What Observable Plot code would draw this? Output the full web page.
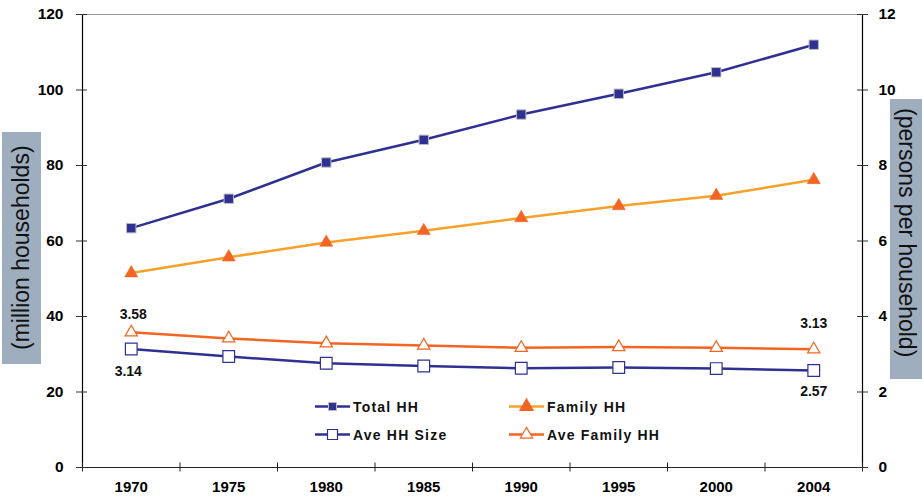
<!DOCTYPE html>
<html>
<head>
<meta charset="utf-8">
<script src="https://cdn.jsdelivr.net/npm/d3@7"></script>
<script src="https://cdn.jsdelivr.net/npm/@observablehq/plot@0.6"></script>
<style>
  html, body { margin: 0; padding: 0; background: #fff; }
  #wrap { position: relative; width: 922px; height: 499px; font-family: "Liberation Sans", Arial, sans-serif; }
  #wrap svg.plot { position: absolute; left: 0; top: 0; }
  .ylab { position: absolute; background: #9FAEBF; color: #111; font-size: 23px; display: flex; align-items: center; justify-content: center; writing-mode: vertical-rl; white-space: nowrap; }
  #leftLab { left: 2px; top: 132px; width: 39px; height: 232px; transform: rotate(180deg); }
  #rightLab { left: 890px; top: 99px; width: 32px; height: 280px; overflow: hidden; justify-content: flex-start; }
  #legend { position: absolute; left: 0; top: 0; pointer-events: none; }
</style>
</head>
<body>
<div id="wrap"></div>
<script>
const years = ["1970", "1975", "1980", "1985", "1990", "1995", "2000", "2004"];
const totalHH = [63.4, 71.2, 80.8, 86.8, 93.5, 99.0, 104.7, 112.0];
const familyHH = [51.5, 55.7, 59.6, 62.7, 66.1, 69.3, 72.0, 76.2];
const aveHHSize = [3.14, 2.94, 2.76, 2.69, 2.63, 2.65, 2.62, 2.57];
const aveFamilyHH = [3.58, 3.42, 3.29, 3.23, 3.17, 3.19, 3.17, 3.13];
const leftTicks = [0, 20, 40, 60, 80, 100, 120];
const rightTicks = [0, 2, 4, 6, 8, 10, 12];
const seriesNames = ["Total HH", "Family HH", "Ave HH Size", "Ave Family HH"];

const NAVY = "#2E3192", ORANGE = "#F7A12B", RED = "#F26522";
const idx = years.map((_, i) => i);
const bounds = d3.range(years.length + 1).map(i => i - 0.5);
const rows = (vals, k = 1) => vals.map((v, i) => ({i, v: v * k}));

const tf = {fontFamily: "Liberation Sans, Arial, sans-serif", fontWeight: "bold"};

const chart = Plot.plot({
  width: 922, height: 499,
  marginLeft: 82, marginRight: 60, marginTop: 14, marginBottom: 32,
  style: {fontFamily: "Liberation Sans, Arial, sans-serif", background: "transparent"},
  x: {type: "linear", domain: [-0.5, years.length - 0.5]},
  y: {domain: [0, 120]},
  marks: [
    Plot.ruleY([120], {stroke: "#999", strokeWidth: 1.2}),
    Plot.ruleX([bounds[0], bounds[bounds.length - 1]], {y1: 0, y2: 120, stroke: "#000", strokeWidth: 1.2}),
    Plot.ruleY([0], {stroke: "#222", strokeWidth: 1.2}),
    Plot.ruleX(bounds, {x: d => d, y1: 0, y2: 0, insetTop: -4.5, insetBottom: -4.5, stroke: "#222"}),
    Plot.ruleY(leftTicks, {y: d => d, x1: bounds[0], x2: bounds[0], insetLeft: -6, insetRight: -5, stroke: "#333"}),
    Plot.ruleY(leftTicks, {y: d => d, x1: bounds[bounds.length - 1], x2: bounds[bounds.length - 1], insetLeft: -5, insetRight: -6, stroke: "#333"}),
    Plot.axisY(leftTicks, {anchor: "left", tickSize: 0, tickPadding: 19, label: null, fontSize: 15.5, ...tf, letterSpacing: "2.2px"}),
    Plot.axisY(rightTicks.map(d => d * 10), {anchor: "right", tickSize: 0, tickPadding: 16, label: null, tickFormat: d => d / 10, fontSize: 15.5, ...tf, letterSpacing: "2.2px"}),
    Plot.axisX(idx, {anchor: "bottom", tickSize: 0, tickPadding: 14, label: null, tickFormat: i => years[i], fontSize: 15, ...tf, letterSpacing: "1.2px"}),
    Plot.line(rows(totalHH), {x: "i", y: "v", stroke: NAVY, strokeWidth: 2.5}),
    Plot.line(rows(familyHH), {x: "i", y: "v", stroke: ORANGE, strokeWidth: 2.5}),
    Plot.line(rows(aveFamilyHH, 10), {x: "i", y: "v", stroke: RED, strokeWidth: 2.5}),
    Plot.line(rows(aveHHSize, 10), {x: "i", y: "v", stroke: NAVY, strokeWidth: 2.5}),
    Plot.dot(rows(totalHH), {x: "i", y: "v", symbol: "square", r: 5.3, fill: NAVY, stroke: "#bbb", strokeWidth: 1}),
    Plot.dot(rows(familyHH), {x: "i", y: "v", symbol: "triangle", r: 4.9, fill: RED, stroke: RED, strokeWidth: 0.5}),
    Plot.dot(rows(aveFamilyHH, 10), {x: "i", y: "v", symbol: "triangle", r: 4.6, fill: "#fff", stroke: RED, strokeWidth: 1.2}),
    Plot.dot(rows(aveHHSize, 10), {x: "i", y: "v", symbol: "square", r: 6.6, fill: "#fff", stroke: NAVY, strokeWidth: 1.2}),
    Plot.text([{i: 0, v: aveFamilyHH[0]}], {x: "i", y: d => d.v * 10, text: d => d.v.toFixed(2), dy: -18, dx: 2, fontSize: 14, ...tf, letterSpacing: "0.8px", fill: "#111"}),
    Plot.text([{i: 0, v: aveHHSize[0]}], {x: "i", y: d => d.v * 10, text: d => d.v.toFixed(2), dy: 23, dx: -3, fontSize: 14, ...tf, letterSpacing: "0.8px", fill: "#111"}),
    Plot.text([{i: years.length - 1, v: aveFamilyHH[years.length - 1]}], {x: "i", y: d => d.v * 10, text: d => d.v.toFixed(2), dy: -26, fontSize: 14, ...tf, letterSpacing: "0.8px", fill: "#111"}),
    Plot.text([{i: years.length - 1, v: aveHHSize[years.length - 1]}], {x: "i", y: d => d.v * 10, text: d => d.v.toFixed(2), dy: 21, fontSize: 14, ...tf, letterSpacing: "0.8px", fill: "#111"})
  ]
});
chart.classList.add("plot");
const wrap = document.getElementById("wrap");
wrap.appendChild(chart);

const l = document.createElement("div"); l.className = "ylab"; l.id = "leftLab"; l.textContent = "(million households)";
const r = document.createElement("div"); r.className = "ylab"; r.id = "rightLab"; r.innerHTML = "<span style='padding-top:9px'>(persons per household)</span>";
wrap.appendChild(l); wrap.appendChild(r);

const items = [
  {name: seriesNames[0], x: 315, y: 406.5, line: NAVY, sym: "sq", fill: NAVY, stroke: "#bbb"},
  {name: seriesNames[1], x: 509, y: 406.5, line: ORANGE, sym: "tri", fill: RED, stroke: RED},
  {name: seriesNames[2], x: 315, y: 434.5, line: NAVY, sym: "sqo", fill: "#fff", stroke: NAVY},
  {name: seriesNames[3], x: 509, y: 434.5, line: RED, sym: "trio", fill: "#fff", stroke: RED}
];
const ns = "http://www.w3.org/2000/svg";
const lg = document.createElementNS(ns, "svg");
lg.setAttribute("id", "legend"); lg.setAttribute("width", 922); lg.setAttribute("height", 499);
for (const it of items) {
  const g = document.createElementNS(ns, "g");
  g.setAttribute("transform", `translate(${it.x},${it.y})`);
  const ln = document.createElementNS(ns, "line");
  ln.setAttribute("x1", 0); ln.setAttribute("x2", 35); ln.setAttribute("y1", 0); ln.setAttribute("y2", 0);
  ln.setAttribute("stroke", it.line); ln.setAttribute("stroke-width", 2.5);
  g.appendChild(ln);
  const p = document.createElementNS(ns, "path");
  let d;
  if (it.sym === "sq") d = d3.symbol(d3.symbolSquare, 64)();
  else if (it.sym === "sqo") d = d3.symbol(d3.symbolSquare, 100)();
  else if (it.sym === "tri") d = d3.symbol(d3.symbolTriangle, 75)();
  else d = d3.symbol(d3.symbolTriangle, 66)();
  p.setAttribute("d", d); p.setAttribute("transform", "translate(17.5,0)");
  p.setAttribute("fill", it.fill); p.setAttribute("stroke", it.stroke); p.setAttribute("stroke-width", it.sym === "sq" ? 1 : 1.2);
  g.appendChild(p);
  const t = document.createElementNS(ns, "text");
  t.setAttribute("x", 38); t.setAttribute("y", 0); t.setAttribute("dy", "0.36em");
  t.setAttribute("font-family", "Liberation Sans, Arial, sans-serif"); t.setAttribute("font-weight", "bold");
  t.setAttribute("font-size", 14); t.setAttribute("letter-spacing", "1.2px"); t.setAttribute("fill", "#111");
  t.textContent = it.name;
  g.appendChild(t);
  lg.appendChild(g);
}
wrap.appendChild(lg);
</script>
</body>
</html>
